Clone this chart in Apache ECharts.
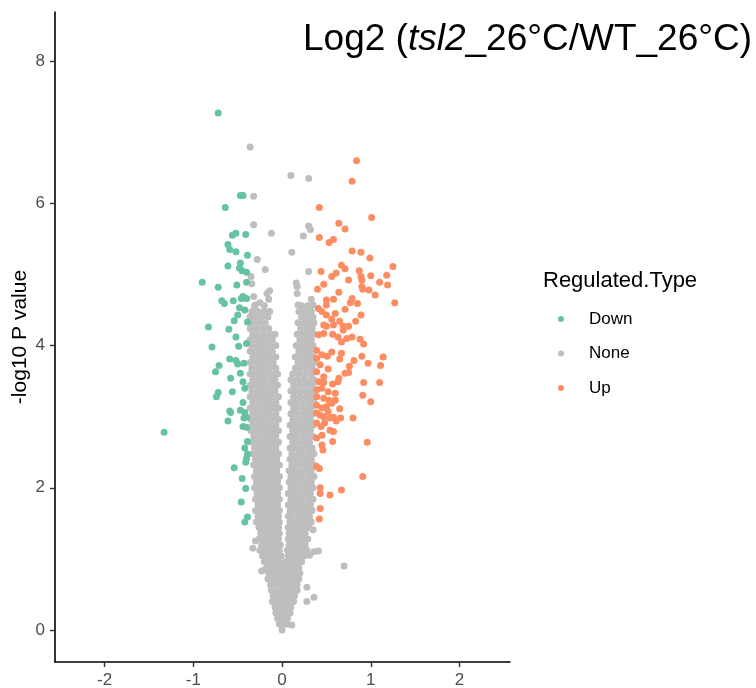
<!DOCTYPE html>
<html>
<head>
<meta charset="utf-8">
<script src="https://cdn.jsdelivr.net/npm/echarts@6/dist/echarts.min.js"></script>
<style>html,body{margin:0;padding:0;background:#fff;}#chart{width:756px;height:688px;}</style>
</head>
<body>
<div id="chart"></div>
<script>
// Tick labels
const xTicks = [-2, -1, 0, 1, 2];
const yTicks = [0, 2, 4, 6, 8];
const legendNames = ['Down', 'None', 'Up'];

// Down-regulated points [log2FC, -log10 P]
const downPoints = [
[-0.72,7.27],[-0.47,6.11],[-0.44,6.11],[-0.64,5.94],[-0.56,5.55],[-0.52,5.58],[-0.41,5.56],
[-0.61,5.42],[-0.59,5.35],[-0.52,5.32],[-0.39,5.27],[-0.47,5.16],[-0.61,5.12],[-0.48,5.09],
[-0.45,5.05],[-0.40,5.03],[-0.90,4.89],[-0.72,4.82],[-0.51,4.85],[-0.40,4.89],[-0.68,4.63],
[-0.65,4.59],[-0.55,4.63],[-0.46,4.66],[-0.40,4.66],[-0.44,4.69],[-0.48,4.53],[-0.42,4.50],
[-0.50,4.43],[-0.54,4.35],[-0.39,4.33],[-0.60,4.23],[-0.83,4.26],[-0.52,4.12],[-0.40,4.03],
[-0.49,3.99],[-0.79,3.98],[-0.59,3.81],[-0.52,3.79],[-0.50,3.74],[-0.43,3.75],[-0.71,3.72],
[-0.75,3.63],[-0.47,3.61],[-0.58,3.54],[-0.44,3.49],[-0.42,3.40],[-0.72,3.34],[-0.74,3.28],
[-0.56,3.35],[-0.44,3.20],[-0.59,3.08],[-0.58,3.06],[-0.47,3.09],[-0.42,3.06],[-0.43,2.98],
[-0.40,2.99],[-0.61,2.94],[-0.44,2.86],[-0.40,2.85],[-1.33,2.78],[-0.39,2.65],[-0.42,2.56],
[-0.39,2.47],[-0.40,2.41],[-0.41,2.36],[-0.54,2.28],[-0.45,2.13],[-0.41,1.99],[-0.46,1.80],
[-0.39,1.59],[-0.42,1.52]
];

// Up-regulated points [log2FC, -log10 P]
const upPoints = [
[0.84,6.60],[0.79,6.31],[0.42,5.94],[1.01,5.80],[0.64,5.72],[0.71,5.64],[0.42,5.52],[0.58,5.49],
[0.53,5.45],[0.79,5.33],[0.89,5.31],[0.99,5.23],[0.67,5.13],[0.71,5.08],[1.25,5.11],[0.44,5.04],
[0.61,5.02],[0.56,4.97],[0.87,5.05],[0.89,4.97],[0.90,4.92],[1.00,4.98],[1.18,4.99],[0.75,4.92],
[1.10,4.89],[1.19,4.85],[0.47,4.86],[0.40,4.79],[0.90,4.83],[0.91,4.79],[0.98,4.78],[1.05,4.71],
[0.64,4.75],[0.50,4.64],[0.50,4.57],[0.58,4.65],[0.79,4.66],[0.77,4.60],[0.85,4.59],[1.27,4.60],
[0.41,4.52],[0.45,4.48],[0.71,4.51],[0.50,4.43],[0.60,4.45],[0.56,4.37],[0.89,4.43],[0.83,4.34],
[0.47,4.29],[0.50,4.27],[0.58,4.29],[0.65,4.34],[0.69,4.27],[0.75,4.27],[0.41,4.15],[0.63,4.12],
[0.79,4.12],[0.88,4.09],[0.47,4.17],[0.57,4.16],[0.69,4.22],[0.67,4.05],[0.73,4.10],[0.92,4.02],
[0.39,3.93],[0.39,3.82],[0.45,3.87],[0.51,3.85],[0.56,3.91],[0.67,3.89],[0.90,3.85],[1.14,3.84],
[0.65,3.81],[0.81,3.79],[0.97,3.75],[1.11,3.72],[0.43,3.73],[0.52,3.67],[0.76,3.71],[0.39,3.63],
[0.47,3.56],[0.64,3.54],[0.71,3.61],[0.75,3.62],[0.41,3.49],[0.47,3.48],[0.57,3.46],[0.63,3.49],
[0.92,3.48],[1.10,3.48],[0.39,3.38],[0.45,3.40],[0.52,3.35],[0.60,3.33],[0.39,3.28],[0.47,3.26],
[0.53,3.23],[0.56,3.19],[0.60,3.23],[0.91,3.30],[1.00,3.21],[0.39,3.16],[0.45,3.12],[0.50,3.14],
[0.65,3.11],[0.39,3.05],[0.43,3.02],[0.47,3.00],[0.52,3.07],[0.54,2.98],[0.58,2.99],[0.61,2.94],
[0.66,2.98],[0.80,2.98],[0.39,2.91],[0.44,2.86],[0.48,2.91],[0.54,2.81],[0.58,2.79],[0.45,2.74],
[0.39,2.70],[0.57,2.65],[0.96,2.64],[0.45,2.60],[0.46,2.53],[0.39,2.30],[0.42,2.27],[0.91,2.16],
[0.43,2.00],[0.43,1.92],[0.54,1.90],[0.67,1.97],[0.43,1.71],[0.42,1.56]
];

// Not-regulated points: scattered ones [log2FC, -log10 P]
const nonePoints = [
[-0.36,6.79],[0.10,6.39],[0.30,6.35],[-0.32,6.10],[-0.32,5.70],[-0.12,5.58],[0.30,5.68],[0.32,5.63],
[0.24,5.54],[0.11,5.31],[-0.28,5.21],[-0.19,5.07],[0.30,5.04],[-0.35,4.97],[-0.34,4.87],[-0.14,4.77],
[-0.17,4.73],[0.16,4.88],[0.17,4.83],[0.17,4.73],[-0.32,4.69],[-0.25,4.60],[-0.15,4.65],[-0.30,4.57],
[0.18,4.57],[0.33,4.65],[0.35,4.57],[0.70,0.90],[0.28,0.60],[0.36,0.46],[0.28,0.40],[-0.30,1.25],
[-0.33,1.15],[-0.23,0.83],[-0.19,0.85],[0.41,1.11],[0.36,1.10],[0.31,1.05],[0.35,1.41],[0.11,0.07]
];

// Not-regulated dense cloud, by rows: [-log10 P, log2FC values...]
const noneRows = [
[4.56,-0.31,-0.20,0.22,0.29],
[4.48,-0.34,-0.27,-0.20,-0.14,0.19,0.26,0.33],
[4.40,-0.36,-0.30,-0.23,-0.16,0.22,0.29,0.35],
[4.32,-0.33,-0.26,-0.19,0.18,0.25,0.31,0.36],
[4.24,-0.36,-0.29,-0.22,-0.15,0.21,0.28,0.34],
[4.16,-0.33,-0.27,-0.20,-0.13,-0.08,0.17,0.24,0.30,0.36],
[4.08,-0.36,-0.30,-0.24,-0.17,-0.11,0.20,0.27,0.33],
[4.00,-0.34,-0.27,-0.21,-0.14,-0.07,0.16,0.23,0.29,0.35],
[3.92,-0.36,-0.30,-0.24,-0.18,-0.11,0.19,0.26,0.32],
[3.84,-0.33,-0.27,-0.20,-0.14,-0.07,0.15,0.22,0.28,0.35],
[3.76,-0.36,-0.29,-0.23,-0.17,-0.10,0.18,0.25,0.31,0.36],
[3.68,-0.34,-0.27,-0.21,-0.14,-0.07,0.15,0.21,0.28,0.34],
[3.60,-0.36,-0.30,-0.24,-0.18,-0.11,-0.05,0.12,0.19,0.26,0.33],
[3.52,-0.33,-0.27,-0.21,-0.14,-0.08,0.10,0.17,0.24,0.31,0.36],
[3.44,-0.36,-0.30,-0.24,-0.17,-0.11,-0.05,0.13,0.20,0.27,0.34],
[3.36,-0.34,-0.27,-0.21,-0.14,-0.08,0.10,0.16,0.23,0.30,0.36],
[3.28,-0.36,-0.30,-0.24,-0.17,-0.11,-0.04,0.13,0.20,0.27,0.33],
[3.20,-0.33,-0.27,-0.20,-0.14,-0.07,0.10,0.16,0.23,0.30,0.36],
[3.12,-0.36,-0.30,-0.23,-0.17,-0.10,-0.04,0.13,0.19,0.26,0.33],
[3.04,-0.33,-0.27,-0.20,-0.14,-0.07,0.10,0.16,0.23,0.29,0.35],
[2.96,-0.35,-0.29,-0.23,-0.17,-0.10,-0.04,0.12,0.19,0.26,0.32],
[2.88,-0.33,-0.26,-0.20,-0.13,-0.07,0.09,0.15,0.22,0.29,0.35],
[2.80,-0.35,-0.29,-0.23,-0.16,-0.10,-0.04,0.12,0.18,0.25,0.32],
[2.72,-0.32,-0.26,-0.19,-0.13,-0.07,0.09,0.15,0.22,0.28,0.35],
[2.64,-0.34,-0.28,-0.22,-0.16,-0.10,-0.04,0.12,0.18,0.25,0.31],
[2.56,-0.31,-0.25,-0.19,-0.13,-0.07,0.09,0.15,0.21,0.28,0.34],
[2.48,-0.33,-0.27,-0.21,-0.15,-0.09,-0.04,0.11,0.18,0.24,0.31,0.36],
[2.40,-0.30,-0.24,-0.18,-0.12,-0.06,0.09,0.14,0.21,0.27,0.33],
[2.32,-0.32,-0.26,-0.20,-0.14,-0.09,-0.03,0.11,0.17,0.24,0.30,0.36],
[2.24,-0.29,-0.23,-0.17,-0.12,-0.06,0.08,0.14,0.20,0.27,0.33],
[2.16,-0.31,-0.25,-0.19,-0.14,-0.08,-0.03,0.10,0.17,0.23,0.30,0.36],
[2.08,-0.29,-0.23,-0.17,-0.11,-0.05,0.08,0.13,0.20,0.26,0.33],
[2.00,-0.31,-0.25,-0.20,-0.14,-0.08,-0.03,0.10,0.16,0.23,0.29,0.35],
[1.92,-0.28,-0.22,-0.16,-0.11,-0.05,0.07,0.13,0.19,0.26,0.32],
[1.84,-0.30,-0.24,-0.19,-0.13,-0.08,-0.03,0.10,0.16,0.22,0.29,0.35],
[1.76,-0.27,-0.22,-0.16,-0.10,-0.05,0.07,0.13,0.19,0.25,0.32],
[1.68,-0.30,-0.24,-0.18,-0.13,-0.07,-0.03,0.09,0.16,0.22,0.28,0.34],
[1.60,-0.27,-0.21,-0.15,-0.10,-0.04,0.07,0.12,0.19,0.25,0.31],
[1.52,-0.29,-0.23,-0.18,-0.12,-0.07,-0.03,0.09,0.15,0.21,0.27,0.33],
[1.44,-0.26,-0.20,-0.15,-0.09,-0.04,0.07,0.12,0.18,0.24,0.30],
[1.36,-0.24,-0.18,-0.12,-0.07,-0.03,0.08,0.14,0.20,0.26],
[1.28,-0.26,-0.20,-0.15,-0.09,-0.04,0.07,0.11,0.17,0.23,0.29],
[1.20,-0.23,-0.17,-0.12,-0.06,-0.02,0.08,0.14,0.20,0.26],
[1.12,-0.25,-0.19,-0.14,-0.08,-0.03,0.06,0.11,0.17,0.23,0.28],
[1.04,-0.22,-0.16,-0.11,-0.05,-0.01,0.07,0.13,0.19,0.25],
[0.96,-0.20,-0.14,-0.08,-0.03,0.04,0.10,0.16,0.22],
[0.88,-0.17,-0.11,-0.05,0.01,0.07,0.13,0.19],
[0.80,-0.15,-0.09,-0.03,0.03,0.09,0.15,0.20],
[0.72,-0.16,-0.10,-0.04,0.02,0.08,0.14,0.19],
[0.64,-0.13,-0.07,-0.01,0.05,0.11,0.17],
[0.56,-0.12,-0.06,0.00,0.06,0.12,0.17],
[0.48,-0.10,-0.04,0.02,0.08,0.14],
[0.40,-0.11,-0.05,0.01,0.07,0.13],
[0.32,-0.08,-0.02,0.04,0.10],
[0.24,-0.07,-0.01,0.05,0.09],
[0.16,-0.05,0.01,0.06],
[0.08,-0.03,0.02,0.06],
[0.00,0.00]
];

const noneData = nonePoints.concat(
  noneRows.flatMap(r => r.slice(1).map(x => [x, r[0]]))
);

const FONT = "'Liberation Sans', Arial, sans-serif";
const chart = echarts.init(document.getElementById('chart'), null, {renderer: 'canvas'});

const axisCommon = {
  type: 'value',
  splitLine: {show: false},
  axisLine: {show: true, onZero: false, lineStyle: {color: '#000', width: 1.6}},
  axisTick: {show: true, length: 5, lineStyle: {color: '#333', width: 1.4}},
  axisLabel: {color: '#4D4D4D', fontSize: 17, fontFamily: FONT, margin: 10}
};

const PT = 7;

chart.setOption({
  animation: false,
  backgroundColor: '#fff',
  grid: {left: 55, right: 246, top: 12, bottom: 26, containLabel: false, outerBoundsMode: 'none'},
  xAxis: Object.assign({}, axisCommon, {
    min: -2.56, max: 2.57,
    axisTick: Object.assign({}, axisCommon.axisTick, {customValues: xTicks}),
    axisLabel: Object.assign({}, axisCommon.axisLabel, {customValues: xTicks})
  }),
  yAxis: Object.assign({}, axisCommon, {
    min: -0.45, max: 8.69,
    name: '-log10 P value',
    nameLocation: 'middle',
    nameRotate: 90,
    nameGap: 24,
    nameMoveOverlap: false,
    nameTextStyle: {color: '#000', fontSize: 21, fontFamily: FONT},
    axisTick: Object.assign({}, axisCommon.axisTick, {customValues: yTicks}),
    axisLabel: Object.assign({}, axisCommon.axisLabel, {customValues: yTicks})
  }),
  legend: {
    orient: 'vertical',
    left: 553,
    top: 304,
    itemWidth: 46,
    itemHeight: 6,
    itemGap: 14.5,
    icon: 'circle',
    data: legendNames,
    textStyle: {color: '#000', fontSize: 17, lineHeight: 20, fontFamily: FONT}
  },
  graphic: [
    {
      type: 'text', left: 303, top: 21,
      style: {
        text: '{n|Log2 (}{i|tsl2}{n|_26°C/WT_26°C)}',
        rich: {
          n: {fontSize: 37, fontFamily: FONT, fill: '#000'},
          i: {fontSize: 37, fontFamily: FONT, fontStyle: 'italic', fill: '#000'}
        }
      }
    },
    {
      type: 'text', left: 543, top: 270,
      style: {text: 'Regulated.Type', fontSize: 22, fontFamily: FONT, fill: '#000'}
    }
  ],
  series: [
    {name: 'None', type: 'scatter', data: noneData, symbol: 'circle', symbolSize: PT,
     itemStyle: {color: '#BEBEBE', opacity: 1}, z: 2},
    {name: 'Down', type: 'scatter', data: downPoints, symbol: 'circle', symbolSize: PT,
     itemStyle: {color: '#66C2A5', opacity: 1}, z: 3},
    {name: 'Up', type: 'scatter', data: upPoints, symbol: 'circle', symbolSize: PT,
     itemStyle: {color: '#FC8D62', opacity: 1}, z: 3}
  ]
});
</script>
</body>
</html>
